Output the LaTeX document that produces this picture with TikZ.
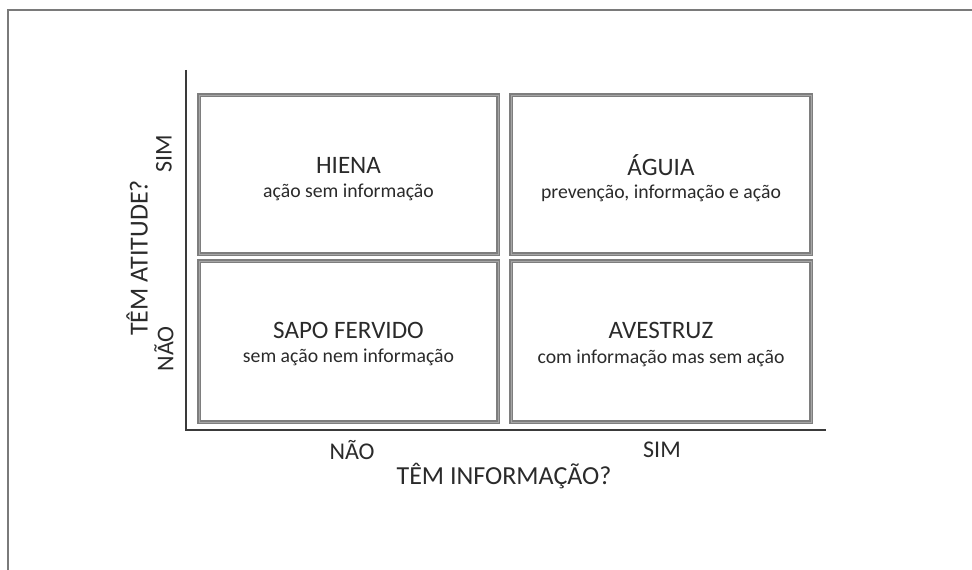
\documentclass[tikz,border=0pt]{standalone}
\usepackage{fontspec}
\setmainfont{Carlito}
\definecolor{txt}{HTML}{2A2A2A}
\definecolor{boxc}{HTML}{7E7E7E}
\definecolor{boxl}{HTML}{A6A6A6}
\definecolor{axc}{HTML}{3A3A3A}
\definecolor{framec}{HTML}{7A7A7A}
\tikzset{
  quad/.style={draw=boxc, line width=1.1pt, double=boxl, double distance=0.5pt, rectangle, inner sep=0pt},
  ttl/.style={text=txt, font=\fontsize{18.8}{21}\selectfont, inner sep=0pt},
  sub/.style={text=txt, font=\fontsize{14.8}{17}\selectfont, inner sep=0pt},
  axl/.style={text=txt, font=\fontsize{18}{20}\selectfont, inner sep=0pt},
  axt/.style={text=txt, font=\fontsize{19.5}{21}\selectfont, inner sep=0pt},
  axis/.style={draw=axc, line width=1.2pt},
  frame/.style={draw=framec, line width=1.1pt}
}
\begin{document}
\begin{tikzpicture}[x=0.75pt, y=-0.75pt]
\useasboundingbox (0,0) rectangle (972,570);
% frame (top and left only)
\coordinate (f1) at (8,570);
\coordinate (f2) at (8,10);
\coordinate (f3) at (972,10);
\draw[frame] (f1) -- (f2) -- (f3);
% axes
\coordinate (ytop) at (186,70);
\coordinate (origin) at (186,430);
\coordinate (xend) at (826,430);
\draw[axis] (ytop) -- (origin) -- (xend);
% quadrant boxes
\node[quad, minimum width=224.25pt, minimum height=119.25pt] (hiena) at (348.5,174.5) {};
\node[quad, minimum width=225pt, minimum height=119.25pt] (aguia) at (661,174.5) {};
\node[quad, minimum width=224.25pt, minimum height=120.75pt] (sapo) at (348.5,341.5) {};
\node[quad, minimum width=225pt, minimum height=120.75pt] (avestruz) at (661,341.5) {};
% texts
\node[ttl] (t1) at (348.5,165) {HIENA};
\node[sub] (s1) at (348.5,192) {ação sem informação};
\node[ttl] (t2) at (661,165) {ÁGUIA};
\node[sub] (s2) at (661,193) {prevenção, informação e ação};
\node[ttl] (t3) at (348.5,330) {SAPO FERVIDO};
\node[sub] (s3) at (348.5,357) {sem ação nem informação};
\node[ttl] (t4) at (661,330) {AVESTRUZ};
\node[sub] (s4) at (661,358) {com informação mas sem ação};
% axis labels
\node[axl, rotate=90] (ysim) at (164,154) {SIM};
\node[axl, rotate=90] (ynao) at (164,349) {NÃO};
\node[axt, rotate=90] (ytitle) at (137,258) {TÊM ATITUDE?};
\node[axl] (xnao) at (352,450) {NÃO};
\node[axl] (xsim) at (662,450) {SIM};
\node[axt] (xtitle) at (504,476) {TÊM INFORMAÇÃO?};
\end{tikzpicture}
\end{document}
